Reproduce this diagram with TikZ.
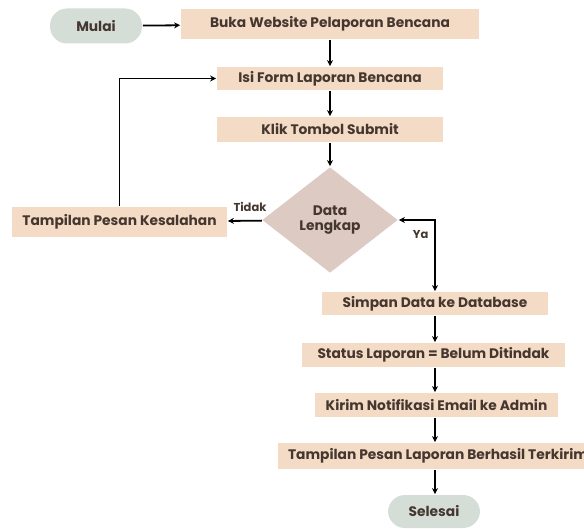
\documentclass[tikz,border=0pt]{standalone}
\usepackage{fontspec}
\setmainfont{Poppins}
\usetikzlibrary{arrows.meta,shapes.geometric,positioning}
\definecolor{proses}{HTML}{F3DBC6}
\definecolor{terminal}{HTML}{D4DDD6}
\definecolor{keputusan}{HTML}{DDCAC2}
\definecolor{teks}{HTML}{45372F}

\begin{document}
\begin{tikzpicture}[x=1pt, y=-1pt, ->, >={Stealth[length=6pt,width=6pt]}, line width=1.8pt,
  every node/.style={font=\fontsize{13.8}{15}\selectfont\bfseries, text=teks},
  label/.style={font=\fontsize{11.5}{13}\selectfont\bfseries},
  langkah/.style={rectangle, fill=proses, inner sep=0pt, minimum height=25pt},
  terminal/.style={rectangle, rounded corners=17pt, fill=terminal, inner sep=0pt, minimum width=92pt, minimum height=35pt},
  keputusan/.style={diamond, fill=keputusan, inner sep=0pt, minimum width=136pt, minimum height=106pt, align=center}]
\path[use as bounding box] (0,0) rectangle (584,529);
\node[terminal] (mulai) at (96,26) {Mulai};
\node[langkah, minimum width=298pt, minimum height=30pt] (buka) at (330,24) {Buka Website Pelaporan Bencana};
\node[langkah, minimum width=226pt, minimum height=23pt] (isi) at (330,78.5) {Isi Form Laporan Bencana};
\node[langkah, minimum width=226pt] (klik) at (330,129.5) {Klik Tombol Submit};
\node[keputusan] (data) at (330,220) {Data\\Lengkap};
\node[langkah, minimum width=215pt, minimum height=30pt] (salah) at (119.5,222) {Tampilan Pesan Kesalahan};
\node[langkah, minimum width=226pt, minimum height=23pt] (simpan) at (435,303.5) {Simpan Data ke Database};
\node[langkah, minimum width=263pt, minimum height=24pt] (status) at (433.5,355) {Status Laporan = Belum Ditindak};
\node[langkah, minimum width=243pt, minimum height=24pt] (kirim) at (436.5,405) {Kirim Notifikasi Email ke Admin};
\node[langkah, minimum width=320pt, minimum height=26pt] (berhasil) at (438,456) {Tampilan Pesan Laporan Berhasil Terkirim};
\node[terminal, minimum height=33pt] (selesai) at (434,511.5) {Selesai};
\draw (mulai) -- (buka);
\draw (buka) -- (isi);
\draw (isi) -- (klik);
\draw (klik) -- (data);
\draw (data) -- node[label, above=5pt, pos=0.35] (tidak) {Tidak} (salah);
\draw (salah.north) |- (isi.west);
\draw[<->] (data.east) -| node[label, below=6pt, pos=0.3] (ya) {Ya} (simpan.north);
\draw (simpan.south) -- (simpan.south |- status.north);
\draw (simpan.south |- status.south) -- (simpan.south |- kirim.north);
\draw (simpan.south |- kirim.south) -- (simpan.south |- berhasil.north);
\draw (simpan.south |- berhasil.south) -- (simpan.south |- selesai.north);
\end{tikzpicture}
\end{document}
